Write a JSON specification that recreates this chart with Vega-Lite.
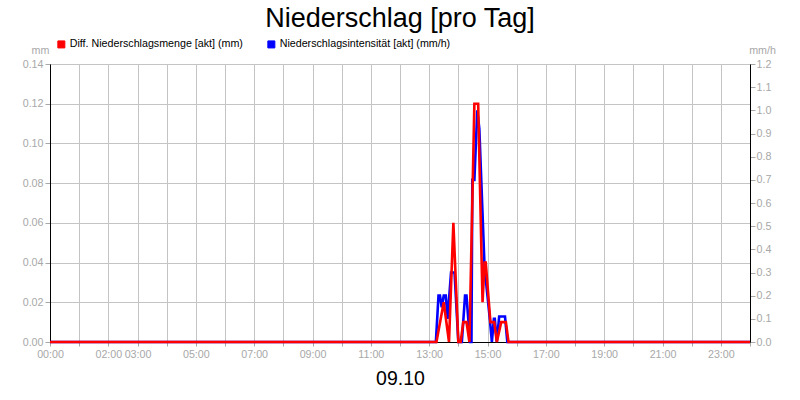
{
  "$schema": "https://vega.github.io/schema/vega-lite/v6.json",
  "autosize": {"type": "none"},
  "width": 700,
  "height": 278,
  "padding": {"left": 50, "top": 64, "right": 50, "bottom": 58},
  "background": "white",
  "title": {"text": "Niederschlag [pro Tag]", "fontSize": 27, "font": "Liberation Sans", "fontWeight": "normal", "color": "black", "anchor": "middle", "baseline": "alphabetic", "offset": 0, "dy": 15},
  "datasets": {
    "mm": [
      {"stunde": 0, "wert": 0},
      {"stunde": 13.25, "wert": 0},
      {"stunde": 13.5, "wert": 0.02},
      {"stunde": 13.68, "wert": 0},
      {"stunde": 13.83, "wert": 0.06},
      {"stunde": 14.0, "wert": 0},
      {"stunde": 14.08, "wert": 0},
      {"stunde": 14.17, "wert": 0.01},
      {"stunde": 14.28, "wert": 0.01},
      {"stunde": 14.38, "wert": 0},
      {"stunde": 14.55, "wert": 0.12},
      {"stunde": 14.68, "wert": 0.12},
      {"stunde": 14.83, "wert": 0.02},
      {"stunde": 14.9, "wert": 0.04},
      {"stunde": 14.94, "wert": 0.04},
      {"stunde": 15.1, "wert": 0.01},
      {"stunde": 15.23, "wert": 0.01},
      {"stunde": 15.32, "wert": 0},
      {"stunde": 15.47, "wert": 0.01},
      {"stunde": 15.63, "wert": 0.01},
      {"stunde": 15.72, "wert": 0},
      {"stunde": 24, "wert": 0}
    ],
    "mmh": [
      {"stunde": 0, "wert": 0},
      {"stunde": 13.23, "wert": 0},
      {"stunde": 13.32, "wert": 0.2},
      {"stunde": 13.37, "wert": 0.2},
      {"stunde": 13.43, "wert": 0.15},
      {"stunde": 13.5, "wert": 0.2},
      {"stunde": 13.57, "wert": 0.2},
      {"stunde": 13.63, "wert": 0.1},
      {"stunde": 13.75, "wert": 0.3},
      {"stunde": 13.87, "wert": 0.3},
      {"stunde": 14.0, "wert": 0},
      {"stunde": 14.12, "wert": 0},
      {"stunde": 14.23, "wert": 0.2},
      {"stunde": 14.28, "wert": 0.2},
      {"stunde": 14.4, "wert": 0},
      {"stunde": 14.45, "wert": 0},
      {"stunde": 14.48, "wert": 0.7},
      {"stunde": 14.55, "wert": 0.7},
      {"stunde": 14.65, "wert": 1.0},
      {"stunde": 14.72, "wert": 0.92},
      {"stunde": 14.9, "wert": 0.32},
      {"stunde": 15.08, "wert": 0.1},
      {"stunde": 15.15, "wert": 0},
      {"stunde": 15.22, "wert": 0.1},
      {"stunde": 15.25, "wert": 0.1},
      {"stunde": 15.32, "wert": 0},
      {"stunde": 15.4, "wert": 0.11},
      {"stunde": 15.6, "wert": 0.11},
      {"stunde": 15.68, "wert": 0},
      {"stunde": 24, "wert": 0}
    ]
  },
  "encoding": {
    "x": {"field": "stunde", "type": "quantitative", "scale": {"domain": [0, 24], "nice": false, "zero": false},
      "axis": {"values": [0,1,2,3,4,5,6,7,8,9,10,11,12,13,14,15,16,17,18,19,20,21,22,23,24],
        "labelExpr": "indexof([0,2,3,5,7,9,11,13,15,17,19,21,23], datum.value) >= 0 ? (datum.value < 10 ? '0' : '') + datum.value + ':00' : ''",
        "title": "09.10", "titleFontSize": 19.5, "titleColor": "black", "titleFontWeight": "normal", "titleAlign": "center", "titleBaseline": "alphabetic", "titleX": 350, "titleY": 42,
        "tickSize": 4, "labelPadding": 3, "labelOverlap": false, "labelFlush": false, "grid": true}}
  },
  "layer": [
    {
      "data": {"name": "mmh"},
      "mark": {"type": "line", "strokeWidth": 2.6, "interpolate": "linear"},
      "encoding": {
        "y": {"field": "wert", "type": "quantitative", "scale": {"domain": [0, 1.2], "nice": false},
          "axis": {"orient": "right", "values": [0,0.1,0.2,0.3,0.4,0.5,0.6,0.7,0.8,0.9,1.0,1.1,1.2], "format": ".1f", "grid": false,
            "title": "mm/h", "titleAngle": 0, "titleX": 12, "titleY": -11, "titleAlign": "center", "titleBaseline": "alphabetic", "tickSize": 5, "labelPadding": 1}},
        "color": {"datum": "Niederschlagsintensität [akt] (mm/h)", "type": "nominal",
          "scale": {"domain": ["Diff. Niederschlagsmenge [akt] (mm)", "Niederschlagsintensität [akt] (mm/h)"], "range": ["#ff0000", "#0000ff"]},
          "legend": {"orient": "none", "legendX": 6, "legendY": -25, "direction": "horizontal", "title": null,
            "symbolType": "square", "symbolSize": 49, "symbolStrokeWidth": 1, "labelFontSize": 10.7, "labelColor": "black", "labelOffset": 3, "columnPadding": 22, "labelLimit": 400,
            "encode": {"symbols": {"update": {"fill": {"scale": "color", "field": "value"}, "stroke": {"value": "black"}, "strokeWidth": {"value": 1}, "opacity": {"value": 1}}}}}}
      }
    },
    {
      "data": {"name": "mm"},
      "mark": {"type": "line", "strokeWidth": 2.6, "interpolate": "linear"},
      "encoding": {
        "y": {"field": "wert", "type": "quantitative", "scale": {"domain": [0, 0.14], "nice": false},
          "axis": {"orient": "left", "values": [0,0.02,0.04,0.06,0.08,0.1,0.12,0.14], "format": ".2f", "grid": true,
            "title": "mm", "titleAngle": 0, "titleX": -10, "titleY": -11, "titleAlign": "center", "titleBaseline": "alphabetic", "tickSize": 5, "labelPadding": 2}},
        "color": {"datum": "Diff. Niederschlagsmenge [akt] (mm)", "type": "nominal"}
      }
    }
  ],
  "resolve": {"scale": {"y": "independent"}},
  "config": {
    "font": "Liberation Sans",
    "view": {"stroke": "black", "strokeWidth": 1},
    "axis": {"labelFont": "Liberation Sans", "labelFontSize": 10.7, "labelColor": "#a8a8a8", "titleFont": "Liberation Sans", "titleFontSize": 10.7, "titleColor": "#a8a8a8", "titleFontWeight": "normal",
      "tickColor": "#a8a8a8", "domainColor": "black", "gridColor": "#c4c4c4", "gridWidth": 1, "gridOpacity": 1, "labelOverlap": false},
    "axisX": {"labelOverlap": false, "labelFlush": false},
    "legend": {"labelFont": "Liberation Sans", "labelLimit": 400}
  }
}
